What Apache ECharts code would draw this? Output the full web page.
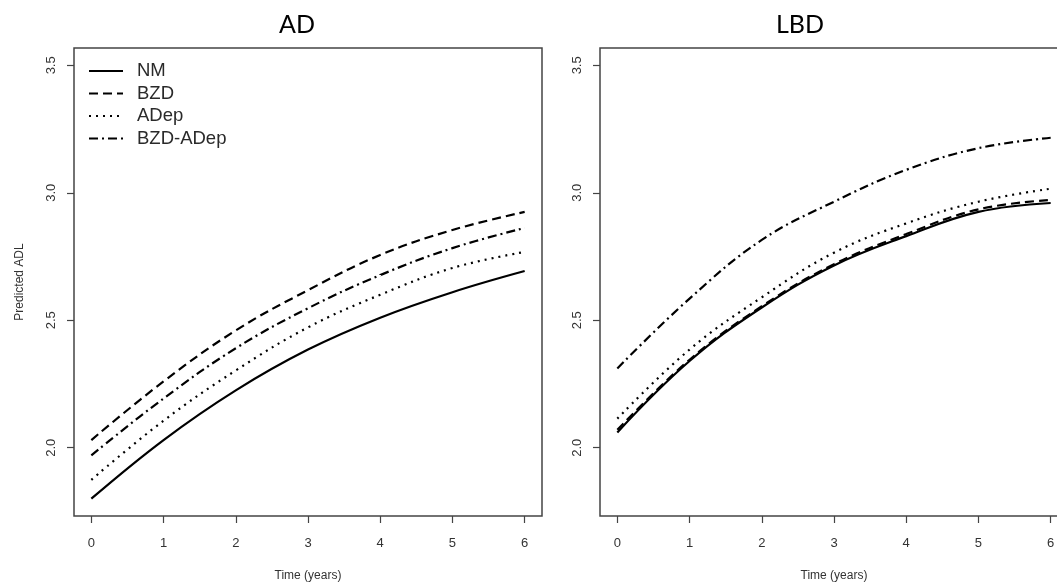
<!DOCTYPE html>
<html>
<head>
<meta charset="utf-8">
<script src="https://cdn.jsdelivr.net/npm/echarts@6/dist/echarts.min.js"></script>
<style>
html,body{margin:0;padding:0;background:#fff;}
#chart{width:1057px;height:583px;}
</style>
</head>
<body>
<div id="chart"></div>
<script>
// ---- data ----
const years = [0, 1, 2, 3, 4, 5, 6];
const seriesNames = ['NM', 'BZD', 'ADep', 'BZD-ADep'];
const panelTitles = ['AD', 'LBD'];
const yTicks = [2.0, 2.5, 3.0, 3.5];
const xTicks = [0, 1, 2, 3, 4, 5, 6];

const ad_NM      = [1.80, 2.03, 2.225, 2.385, 2.51, 2.61, 2.693];
const ad_BZD     = [2.03, 2.26, 2.46, 2.618, 2.756, 2.854, 2.925];
const ad_ADep    = [1.874, 2.106, 2.303, 2.472, 2.60, 2.705, 2.768];
const ad_BZDADep = [1.97, 2.193, 2.39, 2.547, 2.677, 2.783, 2.862];

const lbd_NM      = [2.06, 2.34, 2.55, 2.715, 2.83, 2.925, 2.96];
const lbd_BZD     = [2.07, 2.345, 2.555, 2.72, 2.838, 2.935, 2.972];
const lbd_ADep    = [2.114, 2.385, 2.59, 2.765, 2.88, 2.965, 3.016];
const lbd_BZDADep = [2.311, 2.585, 2.815, 2.965, 3.09, 3.175, 3.216];

// ---- styles ----
const lineTypes = {
  'NM': 'solid',
  'BZD': [9, 5],
  'ADep': [2, 5],
  'BZD-ADep': [9, 4, 2, 4]
};
const FONT = "'Liberation Sans', Arial, sans-serif";
const AX = '#444';

const panels = [
  [ad_NM, ad_BZD, ad_ADep, ad_BZDADep],
  [lbd_NM, lbd_BZD, lbd_ADep, lbd_BZDADep]
];

const grids = [
  {left: 74, top: 48, width: 468, height: 468},
  {left: 600, top: 48, width: 468, height: 468}
];

function pairs(vals) { return years.map((t, i) => [t, vals[i]]); }

const series = [];
panels.forEach((p, pi) => {
  p.forEach((vals, si) => {
    series.push({
      name: seriesNames[si],
      type: 'line',
      xAxisIndex: pi, yAxisIndex: pi,
      data: pairs(vals),
      smooth: 0.4,
      symbol: 'none',
      lineStyle: {color: '#000', width: 2.2, type: lineTypes[seriesNames[si]]},
      itemStyle: {color: '#000'},
      silent: true
    });
  });
});

const xAxes = grids.map((g, i) => ({
  type: 'value', gridIndex: i, min: -0.24, max: 6.24,
  name: 'Time (years)', nameLocation: 'middle', nameGap: 54,
  nameTextStyle: {fontFamily: FONT, fontSize: 12, color: '#333'},
  axisLine: {show: false, onZero: false},
  splitLine: {show: false},
  axisTick: {show: true, length: 7, lineStyle: {color: AX, width: 1.2}, customValues: xTicks},
  axisLabel: {show: true, customValues: xTicks, margin: 21, fontFamily: FONT, fontSize: 13, color: '#333'}
}));

const yAxes = grids.map((g, i) => ({
  type: 'value', gridIndex: i, min: 1.732, max: 3.568,
  name: i === 0 ? 'Predicted ADL' : '', nameLocation: 'middle', nameGap: 48,
  nameTextStyle: {fontFamily: FONT, fontSize: 12, color: '#333'},
  axisLine: {show: false, onZero: false},
  splitLine: {show: false},
  axisTick: {show: true, length: 7, lineStyle: {color: AX, width: 1.2}, customValues: yTicks},
  axisLabel: {show: true, customValues: yTicks, rotate: 90, margin: 16, fontFamily: FONT, fontSize: 13, color: '#333',
    formatter: v => Number(v).toFixed(1)}
}));

const chart = echarts.init(document.getElementById('chart'), null, {renderer: 'canvas'});
chart.setOption({
  backgroundColor: '#fff',
  animation: false,
  title: [
    {text: panelTitles[0], left: 292, top: 7, textAlign: 'center',
     textStyle: {fontFamily: 'Lato, Carlito, sans-serif', fontSize: 25, fontWeight: 'normal', color: '#000'}},
    {text: panelTitles[1], left: 795, top: 7, textAlign: 'center',
     textStyle: {fontFamily: 'Lato, Carlito, sans-serif', fontSize: 25, fontWeight: 'normal', color: '#000'}}
  ],
  grid: grids.map(g => Object.assign({show: true, borderColor: AX, borderWidth: 1.5, backgroundColor: 'transparent',
    containLabel: false, outerBoundsMode: 'none'}, g)),
  legend: {
    data: seriesNames,
    orient: 'vertical',
    left: 88, top: 60, padding: 0,
    itemWidth: 34, itemHeight: 22, itemGap: 0.5,
    selectedMode: false,
    itemStyle: {opacity: 0},
    lineStyle: {width: 2},
    textStyle: {fontFamily: FONT, fontSize: 18.5, color: '#2a2a2a', lineHeight: 22, padding: [0, 0, 0, 9]}
  },
  xAxis: xAxes,
  yAxis: yAxes,
  series: series
});
</script>
</body>
</html>
